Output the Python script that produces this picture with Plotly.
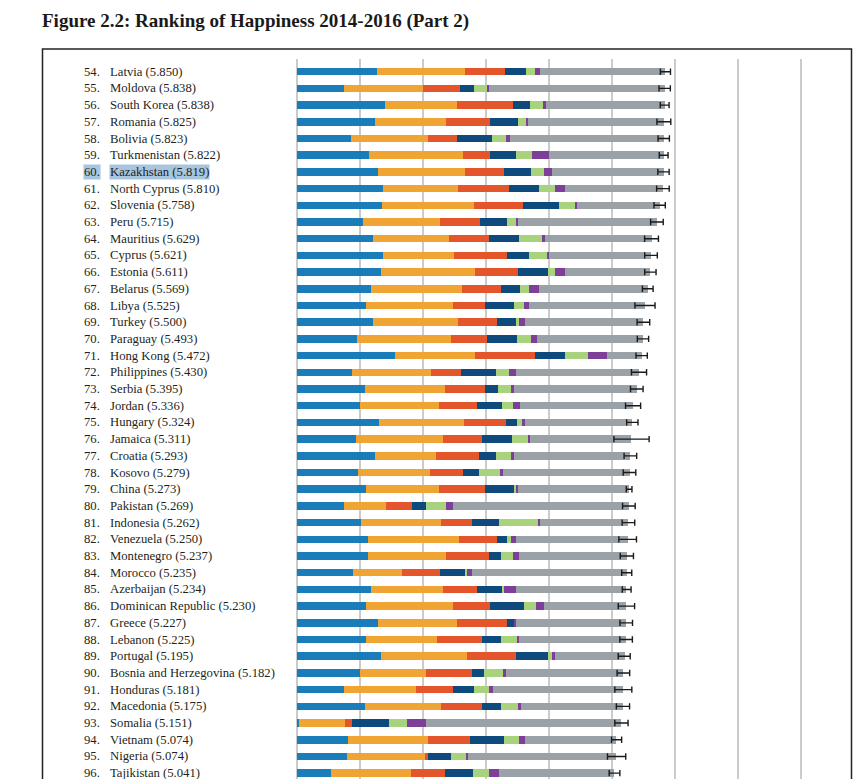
import plotly.graph_objects as go

# ---------------- data ----------------
ranks = list(range(54, 97))
countries = ["Latvia", "Moldova", "South Korea", "Romania", "Bolivia", "Turkmenistan",
             "Kazakhstan", "North Cyprus", "Slovenia", "Peru", "Mauritius", "Cyprus",
             "Estonia", "Belarus", "Libya", "Turkey", "Paraguay", "Hong Kong",
             "Philippines", "Serbia", "Jordan", "Hungary", "Jamaica", "Croatia",
             "Kosovo", "China", "Pakistan", "Indonesia", "Venezuela", "Montenegro",
             "Morocco", "Azerbaijan", "Dominican Republic", "Greece", "Lebanon",
             "Portugal", "Bosnia and Herzegovina", "Honduras", "Macedonia", "Somalia",
             "Vietnam", "Nigeria", "Tajikistan"]
scores = [5.850, 5.838, 5.838, 5.825, 5.823, 5.822, 5.819, 5.810, 5.758, 5.715,
          5.629, 5.621, 5.611, 5.569, 5.525, 5.500, 5.493, 5.472, 5.430, 5.395,
          5.336, 5.324, 5.311, 5.293, 5.279, 5.273, 5.269, 5.262, 5.250, 5.237,
          5.235, 5.234, 5.230, 5.227, 5.225, 5.195, 5.182, 5.181, 5.175, 5.151,
          5.074, 5.074, 5.041]
gdp = [1.26, 0.75, 1.40, 1.23, 0.85, 1.14, 1.29, 1.36, 1.34, 1.04,
       1.20, 1.36, 1.33, 1.17, 1.10, 1.20, 0.95, 1.56, 0.87, 1.08,
       1.00, 1.30, 0.94, 1.24, 0.96, 1.09, 0.75, 1.01, 1.13, 1.13,
       0.88, 1.17, 1.09, 1.29, 1.09, 1.33, 1.00, 0.75, 1.08, 0.02,
       0.81, 0.79, 0.53]
social = [1.41, 1.25, 1.14, 1.14, 1.22, 1.50, 1.38, 1.19, 1.47, 1.23,
          1.21, 1.13, 1.49, 1.44, 1.37, 1.35, 1.50, 1.26, 1.25, 1.27,
          1.25, 1.35, 1.38, 0.96, 1.15, 1.16, 0.66, 1.27, 1.44, 1.24,
          0.78, 1.14, 1.39, 1.25, 1.13, 1.36, 1.05, 1.14, 1.20, 0.74,
          1.26, 1.25, 1.27]
health = [0.63, 0.58, 0.89, 0.70, 0.47, 0.43, 0.62, 0.82, 0.78, 0.63,
          0.63, 0.85, 0.68, 0.63, 0.52, 0.63, 0.57, 0.95, 0.48, 0.63,
          0.60, 0.67, 0.62, 0.69, 0.53, 0.74, 0.41, 0.49, 0.60, 0.67,
          0.61, 0.55, 0.59, 0.80, 0.72, 0.79, 0.72, 0.58, 0.65, 0.11,
          0.67, 0.03, 0.55]
freedom = [0.34, 0.23, 0.27, 0.44, 0.56, 0.41, 0.42, 0.47, 0.57, 0.44,
           0.48, 0.34, 0.48, 0.30, 0.45, 0.30, 0.47, 0.49, 0.56, 0.21,
           0.41, 0.17, 0.47, 0.27, 0.25, 0.46, 0.22, 0.44, 0.16, 0.19,
           0.39, 0.40, 0.53, 0.10, 0.30, 0.50, 0.19, 0.34, 0.31, 0.59,
           0.55, 0.38, 0.45]
generosity = [0.13, 0.22, 0.20, 0.14, 0.22, 0.25, 0.21, 0.26, 0.26, 0.13,
              0.37, 0.29, 0.11, 0.14, 0.16, 0.04, 0.23, 0.36, 0.21, 0.22,
              0.17, 0.08, 0.25, 0.24, 0.33, 0.03, 0.32, 0.62, 0.06, 0.20,
              0.04, 0.03, 0.19, 0.00, 0.26, 0.07, 0.32, 0.23, 0.27, 0.29,
              0.23, 0.23, 0.25]
corruption = [0.09, 0.01, 0.06, 0.01, 0.06, 0.27, 0.12, 0.15, 0.03, 0.04,
              0.04, 0.03, 0.17, 0.16, 0.08, 0.10, 0.09, 0.30, 0.10, 0.03,
              0.11, 0.05, 0.04, 0.04, 0.05, 0.02, 0.12, 0.02, 0.08, 0.09,
              0.08, 0.19, 0.13, 0.04, 0.03, 0.04, 0.03, 0.07, 0.05, 0.29,
              0.10, 0.04, 0.16]
dystopia = [1.99, 2.80, 1.88, 2.17, 2.44, 1.82, 1.78, 1.56, 1.31, 2.21,
            1.70, 1.62, 1.35, 1.73, 1.85, 1.88, 1.68, 0.55, 1.96, 1.96,
            1.80, 1.70, 1.61, 1.85, 2.01, 1.77, 2.79, 1.41, 1.78, 1.72,
            2.46, 1.75, 1.31, 1.75, 1.70, 1.11, 1.87, 2.07, 1.62, 3.11,
            1.45, 2.35, 1.83]
ci_half = [0.08, 0.09, 0.07, 0.11, 0.09, 0.07, 0.09, 0.10, 0.09, 0.10,
           0.11, 0.10, 0.09, 0.085, 0.16, 0.10, 0.09, 0.09, 0.12, 0.10,
           0.12, 0.09, 0.28, 0.10, 0.10, 0.045, 0.10, 0.10, 0.14, 0.105,
           0.08, 0.07, 0.13, 0.10, 0.10, 0.095, 0.10, 0.135, 0.105, 0.105,
           0.08, 0.145, 0.085]
highlight = "Kazakhstan"

series = [
    ("GDP per capita", gdp, "#1a7cb8"),
    ("Social support", social, "#f0a433"),
    ("Healthy life expectancy", health, "#e4552c"),
    ("Freedom", freedom, "#0f4a7c"),
    ("Generosity", generosity, "#a9d27c"),
    ("Perceptions of corruption", corruption, "#7e3f98"),
    ("Dystopia + residual", dystopia, "#9aa1a7"),
]

# ---------------- layout geometry ----------------
W, H = 859, 779
ML, MR, MT, MB = 296, 57, 59, 0
XR = [-0.02, 8.02]
YR = [42.35, -0.76]
PW = W - ML - MR
PH = H - MT - MB


def px_to_paper_x(px):
    return (px - ML) / PW


def py_to_paper_y(py):
    return 1 - (py - MT) / PH


fig = go.Figure()
for name, vals, col in series:
    fig.add_trace(go.Bar(
        y=countries, x=vals, orientation="h", name=name,
        marker=dict(color=col, line=dict(width=0)), width=0.45,
        hoverinfo="x+y+name",
    ))

fig.add_trace(go.Scatter(
    y=countries, x=scores, mode="markers",
    marker=dict(size=1, color="rgba(0,0,0,0)"),
    error_x=dict(type="data", array=ci_half, symmetric=True,
                 color="#1a1a1a", thickness=1.4, width=3.2),
    showlegend=False, hoverinfo="skip",
))

label_font = dict(family="Liberation Serif", size=12.7, color="#231f20")
annotations = []
for r, c, s in zip(ranks, countries, scores):
    bg = "#a8c5df" if c == highlight else "rgba(0,0,0,0)"
    annotations.append(dict(
        xref="paper", yref="y", x=px_to_paper_x(83), y=c,
        text=f"{r}.", showarrow=False, xanchor="left", yanchor="middle",
        font=label_font, bgcolor=bg, borderpad=0,
    ))
    annotations.append(dict(
        xref="paper", yref="y", x=px_to_paper_x(109), y=c,
        text=f"{c} ({s:.3f})", showarrow=False, xanchor="left", yanchor="middle",
        font=label_font, bgcolor=bg, borderpad=0,
    ))

fig.update_layout(
    width=W, height=H,
    margin=dict(l=ML, r=MR, t=MT, b=MB, pad=0),
    paper_bgcolor="white", plot_bgcolor="white",
    barmode="stack", bargap=0.55, showlegend=False,
    title=dict(
        text="Figure 2.2: Ranking of Happiness 2014-2016 (Part 2)",
        xref="container", yref="container",
        x=42 / W, xanchor="left", y=1 - 20 / H, yanchor="middle",
        font=dict(family="Liberation Serif", size=19, color="#1a1a1a", weight="bold"),
    ),
    xaxis=dict(range=XR, dtick=1, tick0=0, showgrid=True, gridcolor="#cbcbcb",
               gridwidth=2, zeroline=True, zerolinecolor="#cbcbcb", zerolinewidth=2,
               showticklabels=False, ticks="", showline=False, fixedrange=True),
    yaxis=dict(type="category", categoryorder="array", categoryarray=countries,
               range=YR, showgrid=False, showticklabels=False, ticks="",
               zeroline=False, showline=False, fixedrange=True),
    annotations=annotations,
    shapes=[dict(type="rect", xref="paper", yref="paper",
                 x0=px_to_paper_x(42.5), x1=px_to_paper_x(851.5),
                 y0=py_to_paper_y(820), y1=py_to_paper_y(49),
                 line=dict(color="#222222", width=1.5), fillcolor="rgba(0,0,0,0)",
                 layer="above")],
)

fig.write_html(
    "out.html",
    config={"displayModeBar": False},
    post_script="document.body.style.margin='0';document.body.style.overflow='hidden';",
)
